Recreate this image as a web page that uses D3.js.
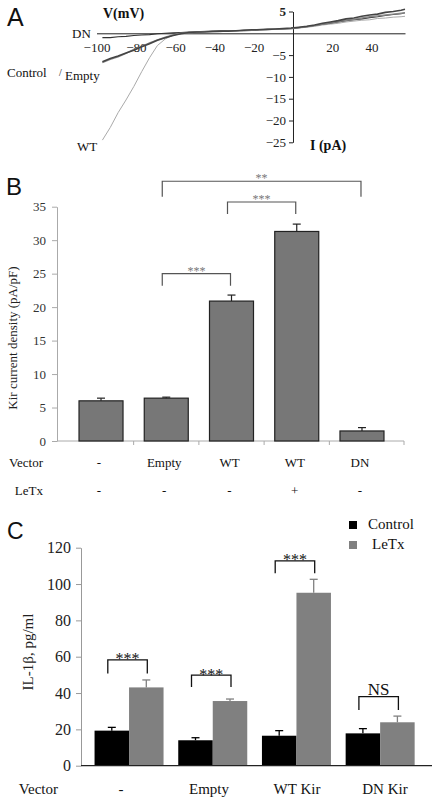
<!DOCTYPE html>
<html><head><meta charset="utf-8">
<script src="https://cdn.jsdelivr.net/npm/d3@7"></script>
<style>
html,body{margin:0;padding:0;background:#fff;}
svg{display:block;}
text{font-family:"Liberation Serif","Times New Roman",serif;}
.panel{font-family:"Liberation Sans",Arial,sans-serif;}
</style></head>
<body>
<script>
// ---------- Panel A: I-V traces ----------
const ivVoltage = [-97,-93,-89,-85,-81,-77,-73,-69,-65,-61,-57,-53,-49,-45,-41,-37,-33,-29,-25,-21,-17,-13,-9,-5,-1,3,7,11,15,19,23,27,31,35,39,43,47,51,55,57];
const ivWT      = [-24.5,-21.6,-18.2,-15.3,-12.2,-8.8,-5.6,-2.8,-1.3,-0.4,0.0,0.2,0.3,0.4,0.4,0.5,0.6,0.6,0.7,0.7,0.8,0.8,0.9,1.0,1.0,1.2,1.4,1.6,1.9,2.1,2.3,2.6,2.8,3.0,3.1,3.4,3.5,3.7,3.8,3.9];
const ivControl = [-6.5,-5.8,-5.2,-4.5,-3.9,-3.1,-2.4,-1.6,-1.0,-0.5,-0.1,0.2,0.3,0.3,0.4,0.5,0.5,0.6,0.7,0.8,0.8,0.9,1.0,1.1,1.2,1.4,1.6,1.9,2.3,2.6,2.9,3.3,3.5,3.9,4.2,4.4,4.8,5.0,5.3,5.5];
const ivEmpty   = [-6.7,-6.0,-5.4,-4.6,-3.7,-3.0,-2.2,-1.5,-0.9,-0.4,0.0,0.1,0.3,0.4,0.4,0.4,0.6,0.6,0.6,0.7,0.9,0.9,0.9,1.0,1.1,1.3,1.5,1.8,2.1,2.4,2.7,3.0,3.2,3.5,3.8,4.0,4.2,4.4,4.6,4.7];
const ivDN      = [-1.0,-1.0,-0.8,-0.7,-0.5,-0.4,-0.3,-0.1,0.0,0.1,0.2,0.3,0.3,0.4,0.5,0.5,0.6,0.6,0.7,0.7,0.8,0.9,0.9,1.0,1.1,1.3,1.5,1.8,2.1,2.3,2.6,2.9,3.1,3.3,3.6,3.8,4.1,4.3,4.5,4.7];
const ivXTicks = [-100,-80,-60,-40,-20,20,40];
const ivYTicks = [-25,-20,-15,-10,-5,5];

// ---------- Panel B: Kir current density ----------
const kirVector = ["-","Empty","WT","WT","DN"];
const kirLeTx   = ["-","-","-","+","-"];
const kirMean   = [6.0, 6.4, 20.9, 31.3, 1.5];
const kirErr    = [0.4, 0.15, 0.9, 1.1, 0.5];
const kirYTicks = [0,5,10,15,20,25,30,35];
const kirSig = [
  {from:1, to:4, label:"**",  top:38.8, leg:36.5},
  {from:2, to:3, label:"***", top:35.7, leg:33.9},
  {from:1, to:2, label:"***", top:25.0, leg:23.2}
];

// ---------- Panel C: IL-1beta ----------
const ilGroups     = ["-","Empty","WT Kir","DN Kir"];
const ilSeries     = ["Control","LeTx"];
const ilControl    = [19.3, 14.0, 16.5, 17.8];
const ilControlErr = [1.8, 1.4, 2.8, 2.6];
const ilLeTx       = [43.1, 35.6, 95.2, 23.9];
const ilLeTxErr    = [4.1, 1.1, 7.4, 3.4];
const ilYTicks     = [0,20,40,60,80,100,120];
const ilSig = [
  {g:0, label:"***", top:58.2, leg:50.7},
  {g:1, label:"***", top:49.9, leg:43.3},
  {g:2, label:"***", top:112.8, leg:106.0},
  {g:3, label:"NS",  top:38.0, leg:30.7}
];

const W = 438, H = 805;
const svg = d3.select("body").append("svg").attr("width", W).attr("height", H);

function label(x, y, s, o={}) {
  return svg.append("text").attr("x", x).attr("y", y).text(s)
    .attr("font-size", o.size || 13)
    .attr("text-anchor", o.anchor || "start")
    .attr("font-weight", o.weight || "normal")
    .attr("fill", o.fill || "#111")
    .attr("class", o.cls || null);
}

// ===== Panel A =====
label(7, 26, "A", {size:25, cls:"panel"});
const xA = d3.scaleLinear().domain([-100, 57]).range([96.5, 405]);
const yA = d3.scaleLinear().domain([-25, 5]).range([142.3, 11.5]);

const gAx = svg.append("g").attr("transform", `translate(0,${yA(0)})`)
  .call(d3.axisBottom(xA).tickValues(ivXTicks).tickSize(0).tickPadding(9).tickSizeOuter(0)
    .tickFormat(d3.format("d")));
gAx.select(".domain").attr("stroke", "#222");
gAx.selectAll("text").attr("font-size", 13).attr("fill", "#222")
  .attr("font-family", '"Liberation Serif",serif');

const gAy = svg.append("g").attr("transform", `translate(${xA(0)},0)`)
  .call(d3.axisLeft(yA).tickValues(ivYTicks).tickSize(4).tickPadding(3).tickSizeOuter(0)
    .tickFormat(d3.format("d")));
gAy.select(".domain").attr("stroke", "#222");
gAy.selectAll("line").attr("stroke", "#222");
gAy.selectAll("text").attr("font-size", 13).attr("fill", "#222")
  .attr("font-family", '"Liberation Serif",serif')
  .attr("font-weight", d => d === 5 ? "bold" : "normal");

const lineA = d3.line().x((d,i) => xA(ivVoltage[i])).y(d => yA(d));
[[ivWT, "#aaa", 1], [ivDN, "#333", 1.1], [ivEmpty, "#888", 1.4], [ivControl, "#444", 1.6]]
  .forEach(([arr, c, w]) => {
    svg.append("path").datum(arr).attr("d", lineA).attr("fill", "none")
      .attr("stroke", c).attr("stroke-width", w);
  });

label(103, 18, "V(mV)", {size:14, weight:"bold"});
label(310, 150, "I (pA)", {size:14, weight:"bold"});
label(72, 38, "DN", {size:13});
label(7, 77, "Control", {size:13});
label(59, 76, "/", {size:10});
label(65, 80, "Empty", {size:13});
label(77, 151, "WT", {size:13});

// ===== Panel B =====
label(6, 195, "B", {size:24, cls:"panel"});
const xB = d3.scaleBand().domain(d3.range(kirMean.length)).range([68.4, 394.6]);
const yB = d3.scaleLinear().domain([0, 35]).range([441, 206.7]);
const bwB = 44;

const gBy = svg.append("g").attr("transform", "translate(57,0)")
  .call(d3.axisLeft(yB).tickValues(kirYTicks).tickSize(5).tickPadding(6).tickSizeOuter(0));
gBy.select(".domain").attr("stroke", "#aaa");
gBy.selectAll("line").attr("stroke", "#aaa");
gBy.selectAll("text").attr("font-size", 13).attr("fill", "#333")
  .attr("font-family", '"Liberation Serif",serif');

svg.append("line").attr("x1", 57).attr("x2", 404).attr("y1", yB(0)).attr("y2", yB(0))
  .attr("stroke", "#aaa");
const bBounds = d3.range(1, kirMean.length).map(i => xB(i)).concat([404]);
svg.selectAll(".bt").data(bBounds).enter().append("line")
  .attr("x1", d => d).attr("x2", d => d).attr("y1", yB(0)).attr("y2", yB(0) + 4)
  .attr("stroke", "#aaa");

const cB = i => xB(i) + xB.bandwidth() / 2;
svg.selectAll(".barB").data(kirMean).enter().append("rect")
  .attr("x", (d,i) => cB(i) - bwB/2).attr("width", bwB)
  .attr("y", d => yB(d)).attr("height", d => yB(0) - yB(d))
  .attr("fill", "#777").attr("stroke", "#222").attr("stroke-width", 1.2);
kirMean.forEach((m, i) => {
  const x = cB(i), y1 = yB(m), y2 = yB(m + kirErr[i]);
  svg.append("line").attr("x1", x).attr("x2", x).attr("y1", y1).attr("y2", y2).attr("stroke", "#222").attr("stroke-width", 1.2);
  svg.append("line").attr("x1", x - 4).attr("x2", x + 4).attr("y1", y2).attr("y2", y2).attr("stroke", "#222").attr("stroke-width", 1.2);
});
kirSig.forEach(s => {
  const x1 = cB(s.from) - 4, x2 = cB(s.to) - 1, yt = yB(s.top), yl = yB(s.leg);
  svg.append("path").attr("d", `M${x1},${yl}V${yt}H${x2}V${yl}`)
    .attr("fill", "none").attr("stroke", "#555").attr("stroke-width", 1.2);
  label((x1 + x2) / 2, yt + 1, s.label, {size:12, anchor:"middle", fill:"#777"});
});

label(43, 467, "Vector", {size:13, anchor:"end"});
label(43, 495, "LeTx", {size:13, anchor:"end"});
kirVector.forEach((v, i) => label(cB(i) - 2, 467, v, {size:13, anchor:"middle"}));
kirLeTx.forEach((v, i) => label(cB(i) - 2, 495, v, {size:13, anchor:"middle"}));

svg.append("text").attr("transform", `translate(17,${338}) rotate(-90)`)
  .attr("text-anchor", "middle").attr("font-size", 13).attr("fill", "#222")
  .text("Kir current density (pA/pF)");

// ===== Panel C =====
label(7, 539, "C", {size:23, cls:"panel"});
const xC = d3.scaleBand().domain(ilGroups).range([87.2, 422]);
const xCl = d3.scaleBand().domain(ilGroups).range([77, 429]);
const yC = d3.scaleLinear().domain([0, 120]).range([765.7, 547.7]);
const bwC = 34.5;
const colC = {Control:"#000", LeTx:"#808080"};

const gCy = svg.append("g").attr("transform", "translate(81,0)")
  .call(d3.axisLeft(yC).tickValues(ilYTicks).tickSize(5).tickPadding(5).tickSizeOuter(0));
gCy.select(".domain").attr("stroke", "#999");
gCy.selectAll("line").attr("stroke", "#999");
gCy.selectAll("text").attr("font-size", 16).attr("fill", "#222")
  .attr("font-family", '"Liberation Serif",serif');

const cC = g => xC(g) + xC.bandwidth() / 2;
const ilRows = ilGroups.map((g, i) => [
  {g, s:"Control", v:ilControl[i], e:ilControlErr[i], x:cC(g) - bwC},
  {g, s:"LeTx", v:ilLeTx[i], e:ilLeTxErr[i], x:cC(g)}
]).flat();
svg.selectAll(".barC").data(ilRows).enter().append("rect")
  .attr("x", d => d.x).attr("width", bwC)
  .attr("y", d => yC(d.v)).attr("height", d => yC(0) - yC(d.v))
  .attr("fill", d => colC[d.s]);
ilRows.forEach(d => {
  const x = d.x + bwC/2, y1 = yC(d.v), y2 = yC(d.v + d.e);
  svg.append("line").attr("x1", x).attr("x2", x).attr("y1", y1).attr("y2", y2).attr("stroke", colC[d.s]).attr("stroke-width", 1.3);
  svg.append("line").attr("x1", x - 4).attr("x2", x + 4).attr("y1", y2).attr("y2", y2).attr("stroke", colC[d.s]).attr("stroke-width", 1.3);
});
svg.append("line").attr("x1", 81).attr("x2", 432).attr("y1", yC(0)).attr("y2", yC(0))
  .attr("stroke", "#222").attr("stroke-width", 1.2);

ilSig.forEach(s => {
  const g = ilGroups[s.g];
  const x1 = cC(g) - bwC/2 - 4, x2 = cC(g) + bwC/2 + 1, yt = yC(s.top), yl = yC(s.leg);
  svg.append("path").attr("d", `M${x1},${yl}V${yt}H${x2}V${yl}`)
    .attr("fill", "none").attr("stroke", "#111").attr("stroke-width", 1.3);
  if (s.label === "NS") label((x1 + x2) / 2, yt - 1.5, s.label, {size:17, anchor:"middle"});
  else label((x1 + x2) / 2, yt + 4.5, s.label, {size:16, anchor:"middle"});
});

label(58, 794, "Vector", {size:15, anchor:"end"});
ilGroups.forEach(g => label(xCl(g) + xCl.bandwidth()/2, 794, g, {size:15, anchor:"middle"}));

svg.append("text").attr("transform", `translate(33,${652}) rotate(-90)`)
  .attr("text-anchor", "middle").attr("font-size", 15).attr("fill", "#222")
  .text("IL-1β, pg/ml");

// legend
ilSeries.forEach((s, i) => {
  svg.append("rect").attr("x", 349).attr("y", 521 + i * 20).attr("width", 8).attr("height", 8)
    .attr("fill", colC[s]);
  label(s === "Control" ? 368 : 372, 529 + i * 20, s, {size:15});
});
</script>
</body></html>
